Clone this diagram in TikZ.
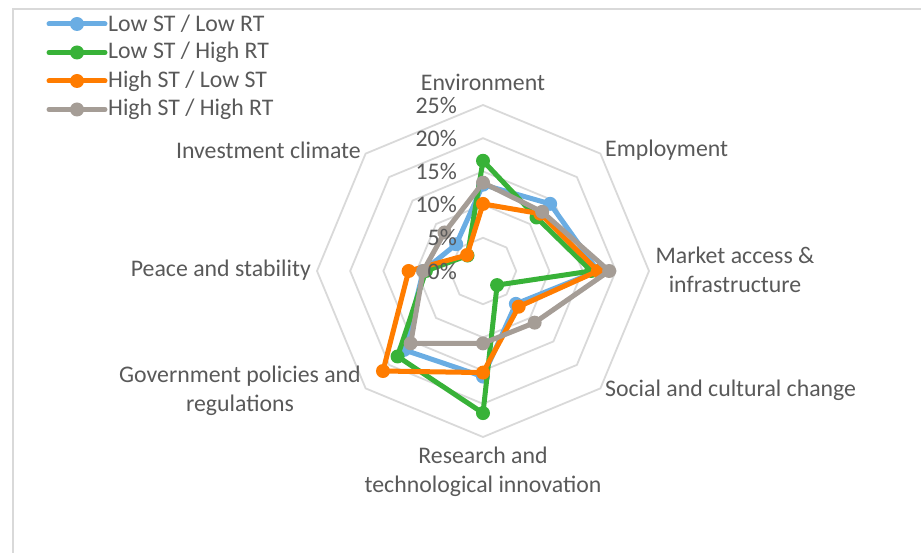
\documentclass[tikz,border=0pt]{standalone}
\usepackage{fontspec}
\setmainfont{Carlito}
\usetikzlibrary{calc}
\definecolor{gridgray}{HTML}{D9D9D9}
\definecolor{txtgray}{HTML}{595959}
\definecolor{lowlow}{HTML}{6AADE3}
\definecolor{lowhigh}{HTML}{38B238}
\definecolor{highlow}{HTML}{FF7C00}
\definecolor{highhigh}{HTML}{A59D96}
\tikzset{
  every node/.style={inner sep=0pt, text=txtgray, font=\fontsize{23.8}{29}\selectfont},
  gridline/.style={draw=gridgray, line width=1.8pt},
  serie/.style={draw=#1, line width=5pt, line join=round, line cap=round},
  dot/.style={fill=#1}
}
% one series: colour, eight values in percent (Environment first, clockwise)
\newcommand{\radarline}[2]{%
  \foreach \v [count=\k] in {#2}
    \coordinate (#1-\k) at ({135-45*\k}:{\v*6.64});
  \draw[serie=#1] (#1-1) -- (#1-2) -- (#1-3) -- (#1-4) -- (#1-5) -- (#1-6) -- (#1-7) -- (#1-8) -- cycle;
  \foreach \k in {1,...,8}
    \fill[dot=#1] (#1-\k) circle (7pt);
}
\begin{document}
\begin{tikzpicture}[x=1pt,y=1pt]
\useasboundingbox (0,0) rectangle (921,-553);
%frame
\coordinate (frame tl) at (13,-9);
\draw[gridgray, line width=1.5pt] (frame tl |- 0,-553) -- (frame tl) -- (921,-9);
%legend
\foreach \c/\t [count=\n] in {lowlow/{Low ST / Low RT}, lowhigh/{Low ST / High RT},
    highlow/{High ST / Low ST}, highhigh/{High ST / High RT}}
{
  \pgfmathsetmacro{\ly}{-24-28.5*(\n-1)}
  \coordinate (leg\n a) at (49,\ly);
  \coordinate (leg\n b) at (105,\ly);
  \draw[serie=\c] (leg\n a) -- (leg\n b);
  \fill[dot=\c] ($(leg\n a)!0.5!(leg\n b)$) circle (7pt);
  \node[anchor=west] (leg\n) at (108,\ly) {\t};
}
\begin{scope}[shift={(483,-271)}]
%grid
\foreach \i in {1,...,5}
{
  \pgfmathsetmacro{\r}{\i*33.2}
  \draw[gridline] (90:\r) \foreach \a in {45,0,...,-225} { -- (\a:\r) } -- cycle;
}
%labels
\node (env) at (0,189) {Environment};
\node[anchor=west] (emp) at (122,121) {Employment};
\node[align=center] (mkt) at (252,1) {Market access \&\\infrastructure};
\node[anchor=west] (soc) at (122,-119) {Social and cultural change};
\node[align=center] (res) at (0,-201) {Research and\\technological innovation};
\node[align=center] (gov) at (-243,-120) {Government policies and\\regulations};
\node[anchor=east] (peace) at (-172,1) {Peace and stability};
\node[anchor=east] (inv) at (-122,121) {Investment climate};
%series
\radarline{lowlow}{13.0,14.3,17.3,7.0,15.9,16.8,9.0,5.7}
\radarline{lowhigh}{16.6,11.4,16.3,3.0,21.4,18.2,8.6,3.3}
\radarline{highlow}{10.1,12.2,17.3,7.6,15.3,21.3,11.2,3.4}
\radarline{highhigh}{13.3,12.6,19.0,11.0,10.9,15.4,9.0,8.2}
%ticks
\foreach \i in {0,...,5}
{
  \pgfmathtruncatemacro{\my}{\i*5}
  \node[anchor=east] (tick\i) at (-26,\i*33.2) {\my\%};
}
\end{scope}
\end{tikzpicture}
\end{document}
